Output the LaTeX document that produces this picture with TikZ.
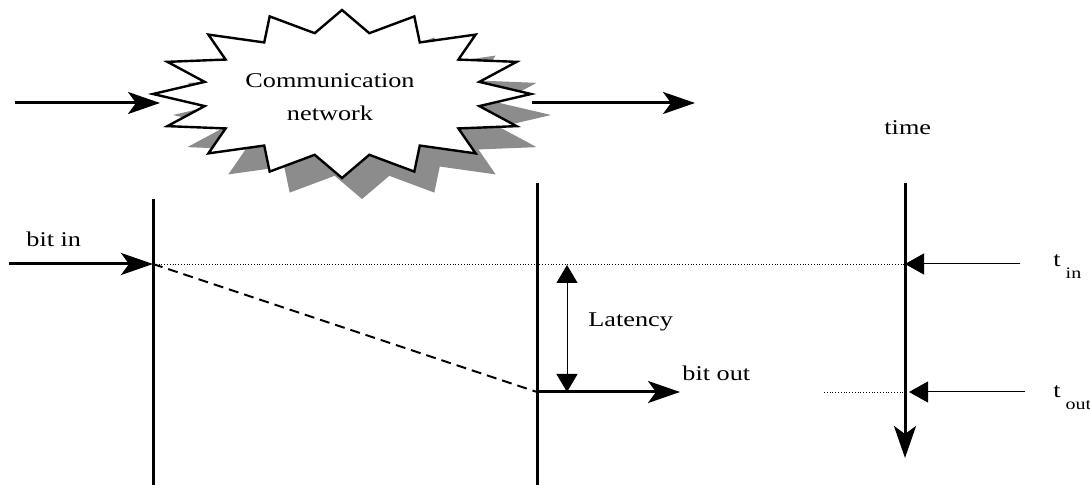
\documentclass[tikz,border=0pt]{standalone}
\usepackage{fontspec}
\setmainfont{Liberation Serif}[FakeStretch=1.25]
\usetikzlibrary{arrows.meta}
\newcommand*{\tsub}[1]{t\hspace{2.5pt}\raisebox{-6pt}{\fontsize{8}{9.6}\selectfont #1}}
\tikzstyle{txt} = [font=\fontsize{10.5}{16.5}\selectfont, inner sep=0pt]
\tikzstyle{axis} = [line width=1.5pt]
\tikzstyle{path} = [-{Stealth[length=16pt, width=11pt, inset=4pt]}, line width=1.5pt]
\tikzstyle{pointer} = [-{Triangle[length=9.5pt, width=10.5pt]}, line width=0.5pt]
\tikzstyle{span} = [{Triangle[length=9pt, width=10.5pt]}-{Triangle[length=9pt, width=10.5pt]}, line width=0.5pt]
\tikzstyle{level} = [densely dotted, line width=0.4pt]
\tikzstyle{travel} = [dash pattern=on 5pt off 3pt, line width=1pt]
\tikzstyle{shade} = [fill=black!45]
\tikzstyle{burst} = [draw, fill=white, line width=1.2pt]
\begin{document}
\begin{tikzpicture}[x=0.5pt, y=-0.5pt]
    \useasboundingbox (0,0) rectangle (1090,485);

    % Network cloud with its shadow.
    \begin{scope}[shift={(362,115)}]
        \fill [shade] (90:189 and 84) \foreach \k in {1,...,16} {-- (101.25-22.5*\k:140 and 62) -- (90-22.5*\k:189 and 84)} -- cycle;
    \end{scope}
    \begin{scope}[shift={(342,94)}]
        \path [burst] (90:189 and 84) \foreach \k in {1,...,16} {-- (101.25-22.5*\k:140 and 62) -- (90-22.5*\k:189 and 84)} -- cycle;
    \end{scope}
    \node (network) [txt, align=center] at (330,97) {Communication\\network};

    \coordinate (net src) at (15,103);
    \coordinate (net in) at (160,103);
    \coordinate (net out) at (532,103);
    \coordinate (net dst) at (695,103);

    % Time lines.
    \coordinate (sender top) at (153,199);
    \coordinate (sender bottom) at (153,485);
    \coordinate (receiver top) at (537,183);
    \coordinate (receiver bottom) at (537,485);
    \coordinate (time top) at (905,183);
    \coordinate (time bottom) at (905,458);

    \coordinate (bit src) at (9,264);
    \coordinate (bit sent) at (153,264);
    \coordinate (bit got) at (537,392);
    \coordinate (bit dst) at (680,392);
    \coordinate (time in) at (905,264);
    \coordinate (time out) at (905,392);
    \coordinate (time out tip) at (909,392);
    \coordinate (out level) at (824,392);
    \coordinate (latency top) at (567,265);
    \coordinate (latency bottom) at (567,392);
    \coordinate (t in src) at (1020,264);
    \coordinate (t out src) at (1025,392);

    \draw [level] (bit sent) -- (time in);
    \draw [level] (out level) -- (time out);
    \draw [axis] (sender top) -- (sender bottom);
    \draw [axis] (receiver top) -- (receiver bottom);
    \draw [path] (time top) -- (time bottom);

    % Arrows.
    \draw [path] (net src) -- (net in);
    \draw [path] (net out) -- (net dst);
    \draw [travel] (bit sent) -- (bit got);
    \draw [path] (bit src) -- (bit sent);
    \draw [path] (bit got) -- (bit dst);
    \draw [span] (latency top) -- (latency bottom);
    \draw [pointer] (t in src) -- (time in);
    \draw [pointer] (t out src) -- (time out tip);

    % Labels.
    \node (time label) [txt, anchor=base west] at (884,135) {time};
    \node (bit in label) [txt, anchor=base west] at (26,247) {bit in};
    \node (bit out label) [txt, anchor=base west] at (682,380) {bit out};
    \node (latency label) [txt, anchor=base west] at (588,327) {Latency};
    \node (t in label) [txt, anchor=base west] at (1053,267) {\tsub{in}};
    \node (t out label) [txt, anchor=base west] at (1053,397) {\tsub{out}};
\end{tikzpicture}
\end{document}
